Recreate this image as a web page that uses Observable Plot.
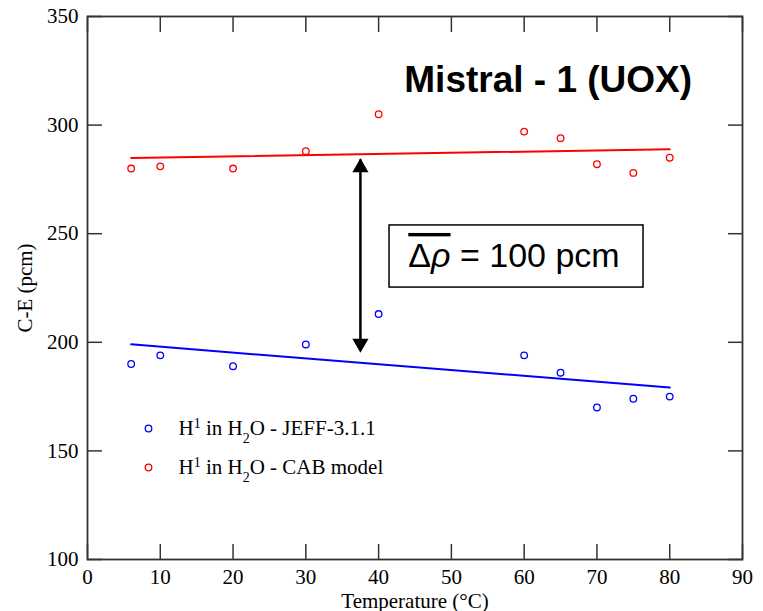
<!DOCTYPE html>
<html><head><meta charset="utf-8">
<script src="https://cdn.jsdelivr.net/npm/d3@7"></script>
<script src="https://cdn.jsdelivr.net/npm/@observablehq/plot@0.6"></script>
<style>html,body{margin:0;padding:0;background:#fff}</style>
</head><body><div id="chart"></div>
<script>
const temperatures = [6, 10, 20, 30, 40, 60, 65, 70, 75, 80];
const jeffValues = [190, 194, 189, 199, 213, 194, 186, 170, 174, 175];
const cabValues = [280, 281, 280, 288, 305, 297, 294, 282, 278, 285];
const seriesNames = ["H1 in H2O - JEFF-3.1.1", "H1 in H2O - CAB model"];
const seriesColors = ["#0000ff", "#ff0000"];
const xTicks = [0, 10, 20, 30, 40, 50, 60, 70, 80, 90];
const yTicks = [100, 150, 200, 250, 300, 350];
const titleText = "Mistral - 1 (UOX)";
const boxText = "Δρ = 100 pcm";
const xLabel = "Temperature (°C)";
const yLabel = "C-E (pcm)";

const rows = [
  ...temperatures.map((t, i) => ({t, v: jeffValues[i], series: seriesNames[0]})),
  ...temperatures.map((t, i) => ({t, v: cabValues[i], series: seriesNames[1]}))
];

const axisColor = "#333";
const plot = Plot.plot({
  width: 763, height: 611,
  marginLeft: 87, marginRight: 21, marginTop: 16, marginBottom: 52,
  style: {fontFamily: "'Liberation Serif', 'Times New Roman', serif", fontSize: "21px", color: "black", background: "white"},
  x: {domain: [0, 90]},
  y: {domain: [100, 350]},
  color: {domain: seriesNames, range: seriesColors},
  marks: [
    // inward ticks on all four sides
    Plot.axisX(xTicks, {anchor: "bottom", tickSize: 15, dy: -15, fill: "none", stroke: axisColor, strokeWidth: 1.5, label: null}),
    Plot.axisX(xTicks, {anchor: "top", tickSize: 15, dy: 15, fill: "none", stroke: axisColor, strokeWidth: 1.5, label: null}),
    Plot.axisY(yTicks, {anchor: "left", tickSize: 15, dx: 15, fill: "none", stroke: axisColor, strokeWidth: 1.5, label: null}),
    Plot.axisY(yTicks, {anchor: "right", tickSize: 15, dx: -15, fill: "none", stroke: axisColor, strokeWidth: 1.5, label: null}),
    // tick labels and axis titles
    Plot.axisX(xTicks, {anchor: "bottom", tickSize: 0, tickPadding: 10, label: xLabel, labelAnchor: "center", labelArrow: "none", labelOffset: 48}),
    Plot.axisY(yTicks, {anchor: "left", tickSize: 0, tickPadding: 9, label: yLabel, labelAnchor: "center", labelArrow: "none", labelOffset: 70}),
    Plot.frame({stroke: axisColor, strokeWidth: 1.8}),
    // regression lines and data points
    Plot.linearRegressionY(rows, {x: "t", y: "v", stroke: "series", ci: 0, strokeWidth: 2}),
    Plot.dot(rows, {x: "t", y: "v", stroke: "series", r: 3.3, strokeWidth: 1.3}),
    // double-headed arrow
    Plot.ruleX([37.5], {y1: 196, y2: 284, stroke: "black", strokeWidth: 2.5}),
    Plot.dot([0], {x: 37.5, y: 284.6, symbol: "triangle", r: 6, fill: "black", dy: 9}),
    Plot.dot([0], {x: 37.5, y: 195.3, symbol: "triangle", r: 6, fill: "black", rotate: 180, dy: -9}),
    // annotation box
    Plot.rect([0], {x1: 41.5, x2: 76.4, y1: 225.2, y2: 253.8, fill: "white", stroke: "black", strokeWidth: 1.5}),
    Plot.text([boxText], {x: 58.6, y: 239.7, text: d => d, fontSize: 34, fontFamily: "'Liberation Sans', Arial, sans-serif", fill: "black"}),
    // title
    Plot.text([titleText], {x: 63.3, y: 320.5, text: d => d, fontSize: 37, fontWeight: "bold", fontFamily: "'Liberation Sans', Arial, sans-serif", fill: "black"}),
    // legend
    Plot.dot([seriesNames[0]], {frameAnchor: "top-left", dx: 61, dy: 412, stroke: seriesColors[0], r: 3.3, strokeWidth: 1.3}),
    Plot.dot([seriesNames[1]], {frameAnchor: "top-left", dx: 61, dy: 451, stroke: seriesColors[1], r: 3.3, strokeWidth: 1.3}),
    Plot.text([seriesNames[0]], {frameAnchor: "top-left", lineAnchor: "middle", dx: 91, dy: 412, text: d => d, textAnchor: "start", fontSize: 21, fill: "black"}),
    Plot.text([seriesNames[1]], {frameAnchor: "top-left", lineAnchor: "middle", dx: 91, dy: 451, text: d => d, textAnchor: "start", fontSize: 21, fill: "black"})
  ]
});
document.getElementById("chart").appendChild(plot);

// rich text: superscripts, subscripts, overline
const svgNS = "http://www.w3.org/2000/svg";
d3.select(plot).selectAll("text").each(function() {
  const t = this.textContent;
  if (seriesNames.includes(t)) {
    const rest = t.slice("H1 in H2O".length);
    const parts = [["H"], ["1", "super"], [" in H"], ["2", "sub"], ["O" + rest]];
    while (this.firstChild) this.removeChild(this.firstChild);
    for (const [s, shift] of parts) {
      const ts = document.createElementNS(svgNS, "tspan");
      ts.textContent = s;
      if (shift) { ts.setAttribute("baseline-shift", shift); ts.setAttribute("font-size", "14"); }
      this.appendChild(ts);
    }
  } else if (t === boxText) {
    while (this.firstChild) this.removeChild(this.firstChild);
    const a = document.createElementNS(svgNS, "tspan");
    a.setAttribute("text-decoration", "overline");
    a.style.textDecoration = "overline";
    const a1 = document.createElementNS(svgNS, "tspan");
    a1.textContent = "Δ";
    const a2 = document.createElementNS(svgNS, "tspan");
    a2.textContent = "ρ";
    a2.setAttribute("font-style", "italic");
    a.appendChild(a1); a.appendChild(a2);
    this.appendChild(a);
    const b = document.createElementNS(svgNS, "tspan");
    b.textContent = " = 100 pcm";
    this.appendChild(b);
  }
});
</script>
</body></html>
